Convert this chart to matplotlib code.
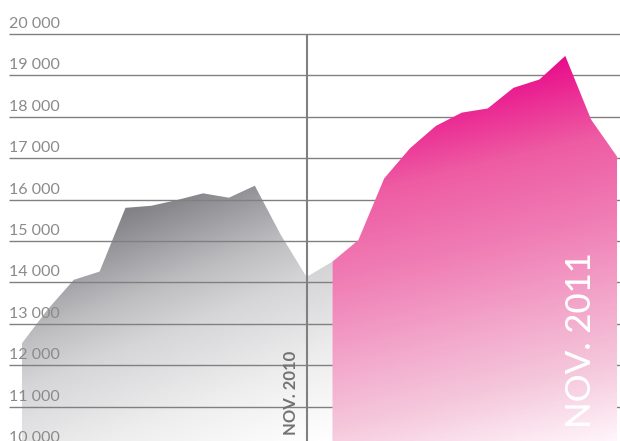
import matplotlib

matplotlib.use("Agg")
import matplotlib.pyplot as plt  # noqa: E402
import numpy as np  # noqa: E402
from matplotlib.colors import LinearSegmentedColormap  # noqa: E402

# meses de dic 2009 a nov 2011
months = ["2009-12", "2010-01", "2010-02", "2010-03", "2010-04", "2010-05",
          "2010-06", "2010-07", "2010-08", "2010-09", "2010-10", "2010-11",
          "2010-12", "2011-01", "2011-02", "2011-03", "2011-04", "2011-05",
          "2011-06", "2011-07", "2011-08", "2011-09", "2011-10", "2011-11"]

# primer periodo (gris), hasta dic 2010
gray_values = [12530, 13350, 14060, 14260, 15800, 15850, 15990, 16150,
               16045, 16335, 15150, 14130, 14500]
# segundo periodo (rosa), desde dic 2010
pink_values = [14500, 15020, 16510, 17240, 17780, 18100, 18200, 18700,
               18900, 19470, 17930, 17040]

y_ticks = [10000, 11000, 12000, 13000, 14000, 15000, 16000, 17000, 18000, 19000, 20000]
tick_labels = ["10 000", "11 000", "12 000", "13 000", "14 000", "15 000",
               "16 000", "17 000", "18 000", "19 000", "20 000"]

W, H = 620, 441
XMIN, XMAX = -0.850, 23.115
YMIN, YMAX = 10167, 20821

fig = plt.figure(figsize=(W / 100, H / 100), dpi=100)
ax = fig.add_axes([0, 0, 1, 1])
ax.set_xlim(XMIN, XMAX)
ax.set_ylim(YMIN, YMAX)
ax.axis("off")

x_gray = np.arange(len(gray_values))
x_pink = np.arange(len(months) - len(pink_values), len(months))

# rejilla de pixeles para los degradados
px, py = np.meshgrid(np.arange(W) + 0.5, np.arange(H) + 0.5)

# degradado gris: oscuro arriba a la izquierda, blanco abajo
gray_cmap = LinearSegmentedColormap.from_list(
    "gris",
    [(0.0, "#7d7c82"), (0.1, "#838287"), (0.35, "#bdbdc0"), (0.5, "#d6d6d8"),
     (0.75, "#eeeeef"), (1.0, "#ffffff")],
)
g = (py - 185) / (440 - 185) * 0.75 + (px - 110) / (330 - 110) * 0.25
gray_img = gray_cmap(np.clip(g, 0, 1))

# degradado rosa
s = (py - 56) / (440 - 56) * 0.85 + (px - 332) / (617 - 332) * 0.15
pink_cmap = LinearSegmentedColormap.from_list(
    "rosa",
    [(0.0, "#e90a8a"), (0.12, "#e90a8a"), (0.32, "#ee5ca3"), (0.5, "#f07db5"),
     (0.83, "#f5c8dc"), (1.0, "#fff5fa")],
)
pink_img = pink_cmap(np.clip(s, 0, 1))

extent = (XMIN, XMAX, YMIN, YMAX)

gray_poly = ax.fill_between(x_gray, gray_values, YMIN - 500, facecolor="none", edgecolor="none")
im = ax.imshow(gray_img, extent=extent, origin="upper", aspect="auto", zorder=1)
im.set_clip_path(gray_poly.get_paths()[0], transform=ax.transData)

pink_poly = ax.fill_between(x_pink, pink_values, YMIN - 500, facecolor="none", edgecolor="none")
im2 = ax.imshow(pink_img, extent=extent, origin="upper", aspect="auto", zorder=3)
im2.set_clip_path(pink_poly.get_paths()[0], transform=ax.transData)

ax.set_xlim(XMIN, XMAX)
ax.set_ylim(YMIN, YMAX)

# lineas horizontales y etiquetas
grid_x0 = -0.5025
for val, lab in zip(y_ticks, tick_labels):
    ax.plot([grid_x0, XMAX], [val, val], color="#808080", linewidth=1.0, zorder=2,
            solid_capstyle="butt")
    ax.annotate(lab, xy=(grid_x0, val), xytext=(0, 4.3), textcoords="offset points",
                ha="left", va="baseline", fontsize=11.5, color="#8a8a8a",
                family="Lato", fontweight="normal", annotation_clip=False)

# linea vertical de nov 2010
ax.plot([11, 11], [YMIN - 500, 20000], color="#808080", linewidth=1.5, zorder=2,
        solid_capstyle="butt")
ax.annotate("NOV. 2010", xy=(11, YMIN), xytext=(-5.8, 4.3), textcoords="offset points",
            rotation=90, ha="right", va="bottom", fontsize=12, color="#727272",
            family="Lato", fontweight="bold", zorder=4)
ax.annotate("NOV. 2011", xy=(23, YMIN), xytext=(-14.4, 9.4), textcoords="offset points",
            rotation=90, ha="right", va="bottom", fontsize=25, color="white",
            family="Lato", fontweight="medium", zorder=5)

fig.savefig("out.png", dpi=100)
plt.close(fig)
